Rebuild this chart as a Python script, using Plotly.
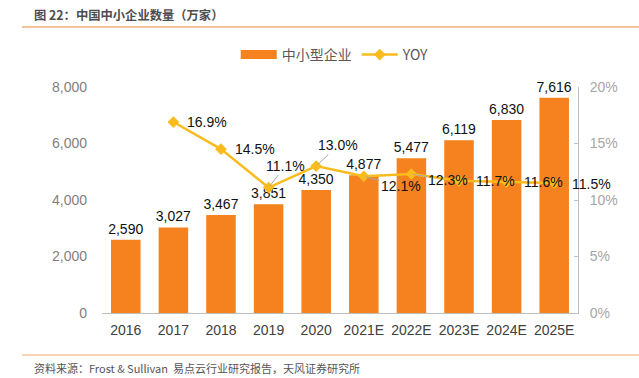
import plotly.graph_objects as go

categories = ["2016", "2017", "2018", "2019", "2020", "2021E", "2022E", "2023E", "2024E", "2025E"]
sme_counts = [2590, 3027, 3467, 3851, 4350, 4877, 5477, 6119, 6830, 7616]
yoy = [None, 0.169, 0.145, 0.111, 0.130, 0.121, 0.123, 0.117, 0.116, 0.115]
yoy_labels = [None, "16.9%", "14.5%", "11.1%", "13.0%", "12.1%", "12.3%", "11.7%", "11.6%", "11.5%"]
left_ticks = [0, 2000, 4000, 6000, 8000]
right_ticks = [0, 0.05, 0.10, 0.15, 0.20]
right_tick_text = ["0%", "5%", "10%", "15%", "20%"]

idx = list(range(len(categories)))

FONT = "Liberation Sans, Arial, Noto Sans CJK SC, sans-serif"
CJK = "Noto Sans CJK SC, Liberation Sans, sans-serif"
BAR = "#F5821F"
LINE = "#FABB1F"

fig = go.Figure()
fig.add_trace(go.Bar(
    x=idx, y=sme_counts, name="中小型企业", showlegend=False,
    marker=dict(color=BAR, line=dict(width=0)),
    width=0.62,
    text=[f"{v:,}" for v in sme_counts], textposition="outside", constraintext="none",
    textfont=dict(family=FONT, size=14, color="#111111"),
    cliponaxis=False,
))
# legend swatch for bars (wide rectangle like the original)
fig.add_trace(go.Scatter(
    x=[None], y=[None], name="中小型企业", mode="lines",
    line=dict(color=BAR, width=9),
))
fig.add_trace(go.Scatter(
    x=idx, y=yoy, name="YOY", yaxis="y2", mode="lines+markers",
    line=dict(color=LINE, width=2.5),
    marker=dict(symbol="diamond", size=9, color=LINE),
    cliponaxis=False,
))

# label offsets (pixels) relative to each YOY point
offsets = {1: (34, 0, False), 2: (34, 0, False), 3: (17, -22, True), 4: (22, -21, True),
           5: (37, 10, True), 6: (37, 6, True), 7: (36, 0, False), 8: (37, 0, False), 9: (37, 1, False)}
for i, (dx, dy, arrow) in offsets.items():
    a = dict(x=idx[i], y=yoy[i], yref="y2", xref="x", text=yoy_labels[i],
             font=dict(family=FONT, size=14, color="#111111"))
    if arrow:
        a.update(showarrow=True, ax=dx, ay=dy, arrowhead=0, arrowwidth=1,
                 arrowcolor="#A6A6A6", standoff=2)
    else:
        a.update(showarrow=False, xshift=dx, yshift=-dy)
    fig.add_annotation(**a)

L, R, T, B = 102, 61, 87, 65
W, H = 639, 378
pw, ph = W - L - R, H - T - B
def to_px(x): return (x - L) / pw
def to_py(y): return (H - B - y) / ph

fig.add_annotation(x=to_px(32), y=to_py(15), xref="paper", yref="paper", xanchor="left", yanchor="middle",
                   text="<b>图 22：中国中小企业数量（万家）</b>", showarrow=False,
                   font=dict(family=CJK, size=12.3, color="#4D4D4D"))
fig.add_annotation(x=to_px(32), y=to_py(368), xref="paper", yref="paper", xanchor="left", yanchor="middle",
                   text="资料来源：Frost & Sullivan  易点云行业研究报告，天风证券研究所", showarrow=False,
                   font=dict(family=CJK, size=11, color="#555555"))
fig.add_shape(type="line", xref="paper", yref="paper", x0=to_px(22), x1=to_px(639), y0=to_py(27), y1=to_py(27),
              line=dict(color="#E8873A", width=1.2))
fig.add_shape(type="line", xref="paper", yref="paper", x0=to_px(22), x1=to_px(639), y0=to_py(355), y1=to_py(355),
              line=dict(color="#F2A66B", width=1))

fig.update_layout(
    width=W, height=H, margin=dict(l=L, r=R, t=T, b=B),
    paper_bgcolor="white", plot_bgcolor="white",
    font=dict(family=FONT),
    showlegend=True,
    legend=dict(orientation="h", x=0.49, xanchor="center", y=to_py(55), yanchor="middle",
                font=dict(family=CJK, size=14, color="#595959"),
                traceorder="normal", itemwidth=36),
    xaxis=dict(range=[-0.5, len(categories) - 0.5], tickvals=idx, ticktext=categories,
               showgrid=False, showline=True, linecolor="#BFBFBF", linewidth=1, zeroline=False,
               ticks="", ticklabelstandoff=4, tickfont=dict(family=FONT, size=14, color="#404040")),
    yaxis=dict(range=[0, 8000], tickvals=left_ticks, ticktext=[f"{v:,}" for v in left_ticks],
               showgrid=False, showline=False, zeroline=False, ticks="", ticklabelstandoff=14,
               tickfont=dict(family=FONT, size=14, color="#7F7F7F")),
    yaxis2=dict(range=[0, 0.2], tickvals=right_ticks, ticktext=right_tick_text, overlaying="y",
                side="right", showgrid=False, showline=True, linecolor="#BFBFBF", zeroline=False,
                ticks="inside", ticklen=4, tickcolor="#BFBFBF", ticklabelstandoff=8,
                tickfont=dict(family=FONT, size=14, color="#A6A6A6")),
)

fig.write_html("out.html", config={"displayModeBar": False},
               post_script="document.body.style.margin='0';")
